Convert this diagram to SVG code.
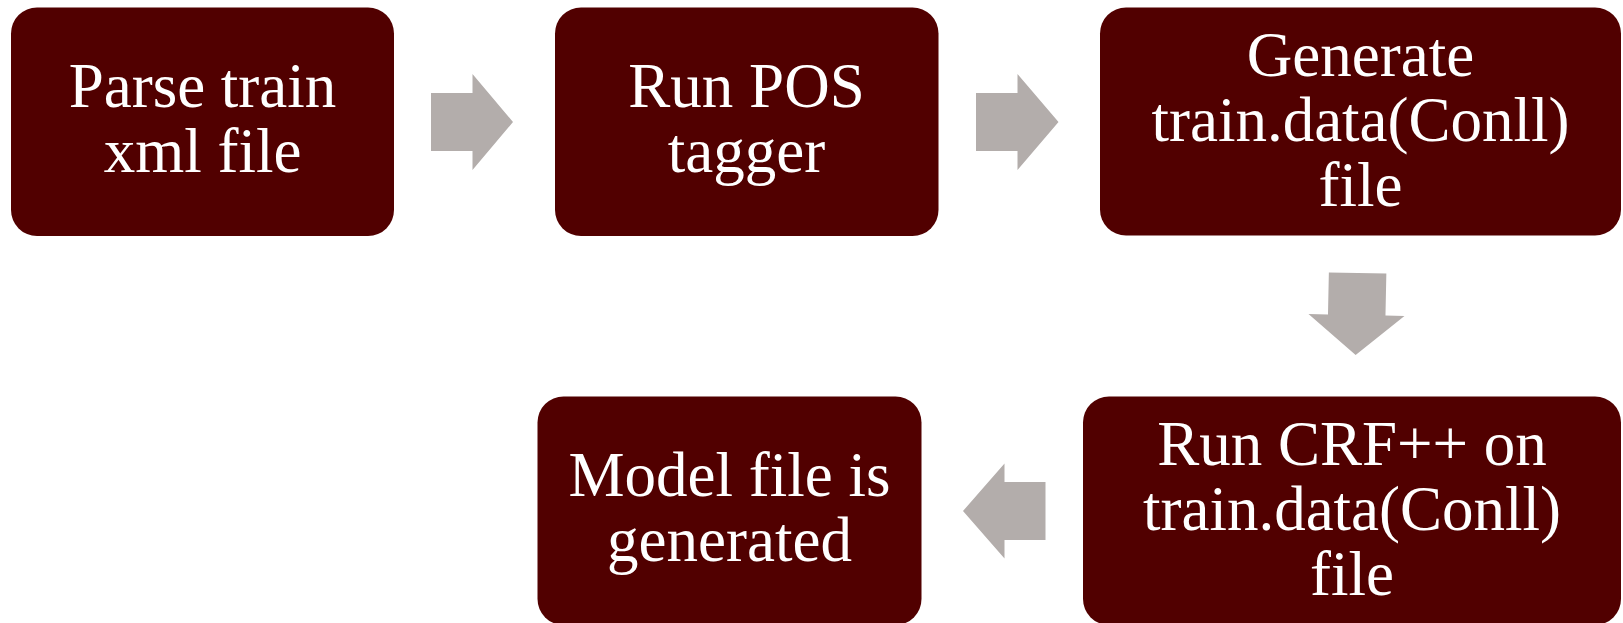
<svg xmlns="http://www.w3.org/2000/svg" width="1623" height="623" viewBox="0 0 1623 623">
<style>
.box{fill:#510000}
.lbl{font-family:"Liberation Serif","Times New Roman",serif;font-size:63px;fill:#ffffff;text-anchor:middle}
.arr{fill:#B3ADAB}
</style>
<rect width="1623" height="623" fill="#ffffff"/>
<g id="connectors">
<polygon class="arr" points="431,93 472.5,93 472.5,74 513,122 472.5,170 472.5,151 431,151"/>
<polygon class="arr" points="976,93 1017.5,93 1017.5,74 1058.5,122 1017.5,170 1017.5,151 976,151"/>
<polygon class="arr" transform="rotate(1.2 1356.5 314)" points="1328,273 1385.5,273 1385.5,315 1404.5,315 1356.5,355 1308.5,315 1328,315"/>
<polygon class="arr" points="1045.5,482 1004.5,482 1004.5,463.5 963,511 1004.5,558.5 1004.5,540 1045.5,540"/>
</g>
<g id="node1">
<rect class="box" x="11" y="7.5" width="383" height="228.5" rx="26"/>
<text class="lbl" x="202.5" y="107.3">Parse train</text>
<text class="lbl" x="202.5" y="172.3">xml file</text>
</g>
<g id="node2">
<rect class="box" x="555" y="7.5" width="383.5" height="228.5" rx="26"/>
<text class="lbl" x="746.5" y="107.3">Run POS</text>
<text class="lbl" x="746.5" y="172.3">tagger</text>
</g>
<g id="node3">
<rect class="box" x="1100" y="7.5" width="521" height="228" rx="26"/>
<text class="lbl" x="1360.5" y="76">Generate</text>
<text class="lbl" x="1360.5" y="141">train.data(Conll)</text>
<text class="lbl" x="1360.5" y="206">file</text>
</g>
<g id="node4">
<rect class="box" x="1083" y="396.5" width="538" height="228.5" rx="26"/>
<text class="lbl" x="1352" y="465">Run CRF++ on</text>
<text class="lbl" x="1352" y="530">train.data(Conll)</text>
<text class="lbl" x="1352" y="595">file</text>
</g>
<g id="node5">
<rect class="box" x="537.5" y="396.5" width="384" height="228.5" rx="26"/>
<text class="lbl" x="729.5" y="496.3">Model file is</text>
<text class="lbl" x="729.5" y="561.3">generated</text>
</g>
</svg>
